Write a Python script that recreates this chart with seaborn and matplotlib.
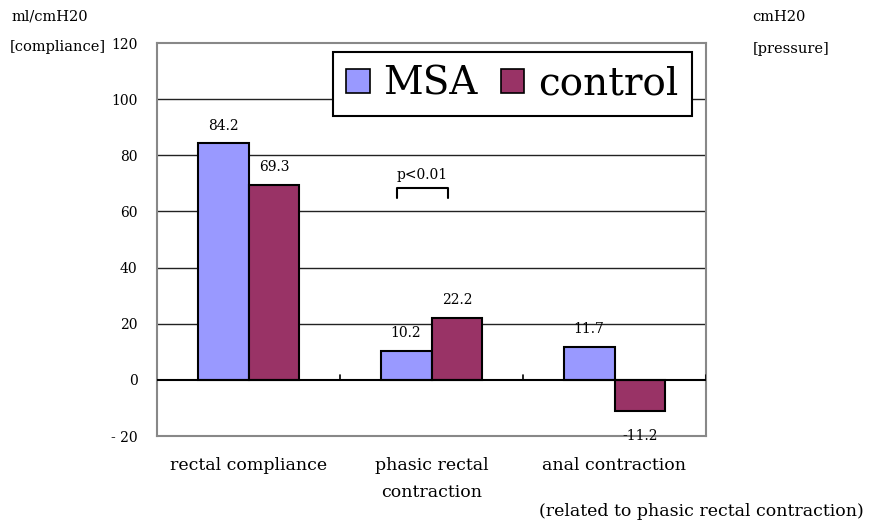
import matplotlib
matplotlib.use("Agg")
import matplotlib.pyplot as plt
from matplotlib.patches import Patch
import seaborn as sns
import pandas as pd

categories = ["rectal compliance", "phasic rectal\ncontraction", "anal contraction"]
groups = ["MSA", "control"]
msa_values = [84.2, 10.2, 11.7]
control_values = [69.3, 22.2, -11.2]
y_ticks = [-20, 0, 20, 40, 60, 80, 100, 120]
y_tick_labels = ["- 20", "0", "20", "40", "60", "80", "100", "120"]
colors = {"MSA": "#9999FF", "control": "#993366"}

df = pd.DataFrame({
    "category": categories * 2,
    "group": [groups[0]] * 3 + [groups[1]] * 3,
    "value": msa_values + control_values,
})

sns.set_theme(style="white", rc={"text.color": "black", "xtick.color": "black",
                                 "ytick.color": "black", "axes.labelcolor": "black"})
plt.rcParams["font.family"] = ["DejaVu Serif"]

fig = plt.figure(figsize=(8.81, 5.23), dpi=100)
ax = fig.add_axes([157 / 881, 1 - 436 / 523, 549 / 881, 393 / 523])

sns.barplot(data=df, x="category", y="value", hue="group", order=categories,
            hue_order=groups, palette=colors, width=0.557, edgecolor="black",
            linewidth=1.5, saturation=1, ax=ax, legend=False)

ax.set_xlim(-0.5, 2.5)
ax.set_ylim(-20, 120)
ax.set_yticks(y_ticks)
ax.set_yticklabels(y_tick_labels, fontsize=10)
ax.set_xlabel("")
ax.set_ylabel("")
ax.tick_params(axis="y", length=0, pad=14)
ax.tick_params(axis="x", length=0, pad=15, labelsize=12.5)
for lbl in ax.get_xticklabels():
    lbl.set_linespacing(1.75)

for y in [20, 40, 60, 80, 100]:
    ax.axhline(y, color="#222222", lw=1.0, zorder=0)
ax.axhline(0, color="black", lw=1.5, zorder=3)
for xb in [0.5, 1.5, 2.5]:
    ax.plot([xb, xb], [0, 1.8], color="black", lw=1.2, zorder=3)
for s in ax.spines.values():
    s.set_color("#888888")
    s.set_linewidth(1.5)

# value labels
for bars, vals in zip(ax.containers, [msa_values, control_values]):
    for rect, v in zip(bars, vals):
        cx = rect.get_x() + rect.get_width() / 2
        if v >= 0:
            ax.text(cx, v + 6.4, f"{v}", ha="center", va="center", fontsize=10)
        else:
            ax.text(cx, v - 8.9, f"{v}", ha="center", va="center", fontsize=10)

# significance bracket
ax.plot([0.811, 0.811, 1.09, 1.09], [64.8, 68.4, 68.4, 64.8], color="black", lw=1.5)
ax.text(0.95, 73, "p<0.01", ha="center", va="center", fontsize=10)

# legend
handles = [Patch(facecolor=colors[g], edgecolor="black", lw=1.2) for g in groups]
leg = ax.legend(handles, groups, loc="upper right", bbox_to_anchor=(0.974, 0.977),
                borderaxespad=0, ncol=2, fontsize=28, frameon=True, fancybox=False,
                handlelength=0.6, handleheight=0.6, handletextpad=0.35,
                columnspacing=0.6, borderpad=0.35)
leg.get_frame().set_edgecolor("black")
leg.get_frame().set_linewidth(1.5)
leg.get_frame().set_alpha(1)

fig.text(12 / 881, 1 - 16 / 523, "ml/cmH20", fontsize=10.5, va="center")
fig.text(10 / 881, 1 - 47 / 523, "[compliance]", fontsize=10.5, va="center")
fig.text(752 / 881, 1 - 17 / 523, "cmH20", fontsize=10.5, va="center")
fig.text(753 / 881, 1 - 49 / 523, "[pressure]", fontsize=10.5, va="center")
fig.text(701 / 881, 1 - 511 / 523, "(related to phasic rectal contraction)",
         fontsize=12.5, ha="center", va="center")

fig.savefig("out.png", dpi=100)
